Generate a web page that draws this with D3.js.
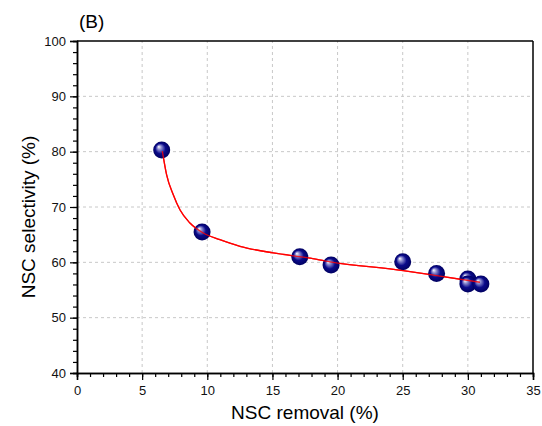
<!DOCTYPE html>
<html>
<head>
<meta charset="utf-8">
<script src="https://cdn.jsdelivr.net/npm/d3@7"></script>
<style>
  body { margin: 0; background: #fff; }
  svg { font-family: Arial, "Liberation Sans", sans-serif; }
</style>
</head>
<body>
<div class="visContainer"></div>
<script>
// measured points
const removal = [6.5, 9.6, 17.1, 19.5, 25.0, 27.6, 30.0, 30.0, 31.0];
const selectivity = [80.3, 65.5, 61.0, 59.5, 60.1, 58.0, 57.0, 56.1, 56.1];

// fitted curve
const fitX = [6.55, 6.88, 7.39, 7.90, 8.67, 9.69, 10.97, 12.51, 15.07, 17.75, 19.42, 25.04, 27.61, 30.93];
const fitY = [80.1, 75.8, 72.2, 69.5, 67.1, 65.3, 64.1, 62.9, 61.7, 60.8, 60.1, 58.5, 57.6, 56.4];

const xTicks = [0, 5, 10, 15, 20, 25, 30, 35];
const yTicks = [40, 50, 60, 70, 80, 90, 100];

const width = 542;
const height = 426;
const margin = {left: 77, right: 9, top: 41, bottom: 53};

const svg = d3.select('.visContainer')
              .append('svg')
              .attr('width', width)
              .attr('height', height);

const xScale = d3.scaleLinear()
                 .domain([0, 35])
                 .range([margin.left, width - margin.right]);
const yScale = d3.scaleLinear()
                 .domain([40, 100])
                 .range([height - margin.bottom, margin.top]);

// gradient for the ball markers
const grad = svg.append('defs').append('radialGradient')
                .attr('id', 'ball')
                .attr('cx', '50%').attr('cy', '50%').attr('r', '50%')
                .attr('fx', '32%').attr('fy', '30%');
grad.append('stop').attr('offset', '0%').attr('stop-color', '#ffffff');
grad.append('stop').attr('offset', '25%').attr('stop-color', '#8c8cd0');
grad.append('stop').attr('offset', '60%').attr('stop-color', '#0a0a8a');
grad.append('stop').attr('offset', '100%').attr('stop-color', '#000060');

// grid
svg.append('g')
   .selectAll('line')
   .data(xTicks.slice(1, -1))
   .enter()
   .append('line')
   .attr('x1', d => xScale(d)).attr('x2', d => xScale(d))
   .attr('y1', yScale(40)).attr('y2', yScale(100))
   .attr('stroke', '#c8c8c8').attr('stroke-dasharray', '3,3');
svg.append('g')
   .selectAll('line')
   .data(yTicks.slice(1, -1))
   .enter()
   .append('line')
   .attr('x1', xScale(0)).attr('x2', xScale(35))
   .attr('y1', d => yScale(d)).attr('y2', d => yScale(d))
   .attr('stroke', '#c8c8c8').attr('stroke-dasharray', '3,3');

// minor ticks
const xAxisMinor = d3.axisBottom(xScale).tickValues(d3.range(0, 36, 1)).tickSize(4).tickFormat('');
const yAxisMinor = d3.axisLeft(yScale).tickValues(d3.range(40, 101, 2)).tickSize(4).tickFormat('');
svg.append('g').attr('transform', `translate(0,${yScale(40)})`).call(xAxisMinor);
svg.append('g').attr('transform', `translate(${xScale(0)},0)`).call(yAxisMinor);

const xAxis = d3.axisBottom(xScale).tickValues(xTicks).tickSize(7).tickPadding(6).tickFormat(d3.format('d'));
const yAxis = d3.axisLeft(yScale).tickValues(yTicks).tickSize(7).tickPadding(4).tickFormat(d3.format('d'));
svg.append('g').attr('class', 'axis').attr('transform', `translate(0,${yScale(40)})`).call(xAxis);
svg.append('g').attr('class', 'axis').attr('transform', `translate(${xScale(0)},0)`).call(yAxis);

svg.selectAll('.domain').attr('stroke', '#000').attr('stroke-width', 1.5);
svg.selectAll('.tick line').attr('stroke', '#000').attr('stroke-width', 1.2);
svg.selectAll('.axis text').attr('font-size', 13).attr('fill', '#111')
   .attr('font-family', 'Arial, "Liberation Sans", sans-serif');

// top and right frame
svg.append('line')
   .attr('x1', xScale(0)).attr('x2', xScale(35))
   .attr('y1', yScale(100)).attr('y2', yScale(100))
   .attr('stroke', '#000').attr('stroke-width', 1.5);
svg.append('line')
   .attr('x1', xScale(35)).attr('x2', xScale(35))
   .attr('y1', yScale(100)).attr('y2', yScale(40))
   .attr('stroke', '#000').attr('stroke-width', 1.5);

// fit line
const fit = fitX.map((x, i) => [x, fitY[i]]);
const line = d3.line()
               .x(d => xScale(d[0]))
               .y(d => yScale(d[1]))
               .curve(d3.curveMonotoneX);
svg.append('path')
   .datum(fit)
   .attr('d', line)
   .attr('fill', 'none')
   .attr('stroke', '#ff0000')
   .attr('stroke-width', 1.3);

// points
const points = removal.map((x, i) => ({x: x, y: selectivity[i]}));
svg.selectAll('circle.dot')
   .data(points)
   .enter()
   .append('circle')
   .attr('class', 'dot')
   .attr('cx', d => xScale(d.x))
   .attr('cy', d => yScale(d.y))
   .attr('r', 8.5)
   .attr('fill', 'url(#ball)');

// line drawn over the balls as in the picture
svg.append('path')
   .datum(fit)
   .attr('d', line)
   .attr('fill', 'none')
   .attr('stroke', '#ff0000')
   .attr('stroke-width', 1.3)
   .attr('opacity', 0.8);

// labels
svg.append('text')
   .attr('x', (xScale(0) + xScale(35)) / 2)
   .attr('y', 419)
   .attr('text-anchor', 'middle')
   .attr('font-size', 19)
   .text('NSC removal (%)');
svg.append('text')
   .attr('transform', `translate(35,217) rotate(-90)`)
   .attr('text-anchor', 'middle')
   .attr('font-size', 19)
   .text('NSC selectivity (%)');
svg.append('text')
   .attr('x', 79)
   .attr('y', 28)
   .attr('font-size', 19)
   .text('(B)');
</script>
</body>
</html>
